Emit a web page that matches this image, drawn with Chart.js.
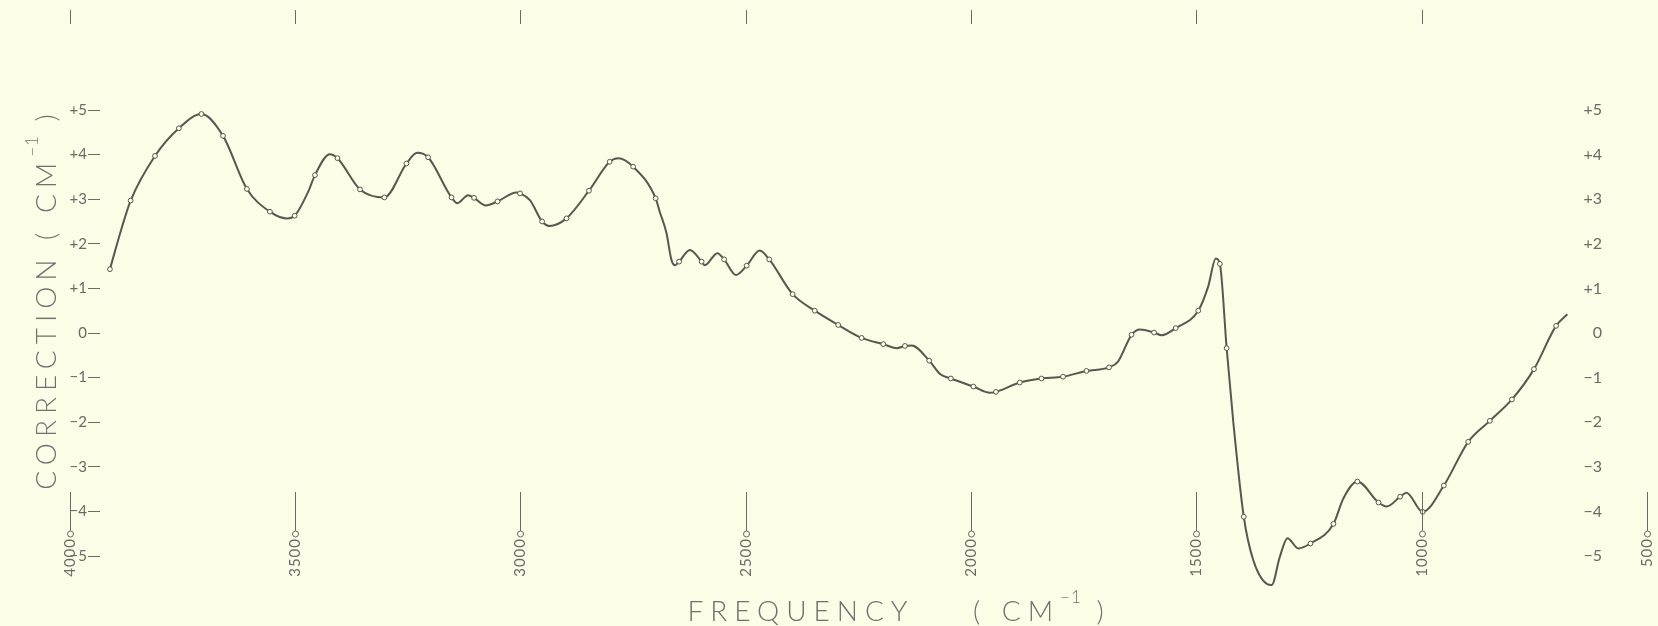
<!DOCTYPE html>
<html>
<head>
<meta charset="utf-8">
<script src="https://cdn.jsdelivr.net/npm/chart.js@4.4.1/dist/chart.umd.min.js"></script>
<style>
  html, body { margin: 0; padding: 0; background: #fcfde6; }
  #wrap { width: 1658px; height: 626px; }
</style>
</head>
<body>
<div id="wrap"><canvas id="chart" width="1658" height="626"></canvas></div>
<script>
// ========================================
// Frequency correction curve (cm-1)
// ========================================

// smooth curve: frequency (cm-1) and correction (cm-1)
const frequency = [
    3911, 3885, 3865, 3811, 3758, 3708, 3660, 3607, 3556, 3519,
    3501, 3471, 3456, 3423, 3406, 3356, 3302, 3253, 3229, 3205,
    3153, 3140, 3116, 3103, 3077, 3051, 3009, 3001, 2979, 2952,
    2936, 2898, 2848, 2802, 2783, 2750, 2700, 2691, 2676, 2665,
    2657, 2648, 2624, 2598, 2591, 2563, 2548, 2522, 2498, 2469,
    2448, 2396, 2347, 2295, 2243, 2195, 2165, 2147, 2132, 2093,
    2069, 2045, 1995, 1958, 1945, 1892, 1844, 1796, 1744, 1694,
    1674, 1644, 1625, 1594, 1577, 1546, 1496, 1474, 1457, 1448,
    1433, 1418, 1395, 1374, 1343, 1333, 1315, 1298, 1274, 1247,
    1196, 1174, 1143, 1096, 1078, 1048, 1034, 998, 951, 897,
    849, 800, 751, 702, 677
];
const correction = [
    1.43, 2.35, 2.97, 3.97, 4.59, 4.91, 4.42, 3.23, 2.72, 2.57,
    2.63, 3.17, 3.54, 4.01, 3.92, 3.22, 3.04, 3.80, 4.04, 3.94,
    3.04, 2.91, 3.09, 3.03, 2.86, 2.95, 3.15, 3.13, 2.98, 2.50,
    2.40, 2.57, 3.19, 3.84, 3.92, 3.73, 3.02, 2.72, 2.24, 1.64,
    1.52, 1.60, 1.86, 1.60, 1.52, 1.79, 1.65, 1.30, 1.51, 1.85,
    1.65, 0.87, 0.50, 0.18, -0.11, -0.25, -0.34, -0.29, -0.28, -0.62,
    -0.92, -1.02, -1.20, -1.34, -1.32, -1.11, -1.02, -0.98, -0.85, -0.77,
    -0.64, -0.04, 0.08, 0.01, -0.05, 0.11, 0.50, 1.04, 1.67, 1.55,
    -0.34, -2.02, -4.12, -5.09, -5.63, -5.65, -5.02, -4.60, -4.83, -4.72,
    -4.28, -3.71, -3.33, -3.80, -3.89, -3.67, -3.58, -4.01, -3.42, -2.44,
    -1.97, -1.49, -0.81, 0.16, 0.42
];

// measured points drawn as small open circles
const pointFrequency = [
    3911, 3865, 3811, 3758, 3708, 3660, 3607, 3556, 3501, 3456,
    3406, 3356, 3302, 3253, 3205, 3153, 3103, 3051, 3001, 2952,
    2898, 2848, 2802, 2750, 2700, 2648, 2598, 2548, 2498, 2448,
    2396, 2347, 2295, 2243, 2195, 2147, 2093, 2045, 1995, 1945,
    1892, 1844, 1796, 1744, 1694, 1644, 1594, 1546, 1496, 1448,
    1433, 1395, 1343, 1247, 1196, 1143, 1096, 1048, 998, 951,
    897, 849, 800, 751, 702
];
const pointCorrection = [
    1.43, 2.97, 3.97, 4.59, 4.91, 4.42, 3.23, 2.72, 2.63, 3.54,
    3.92, 3.22, 3.04, 3.80, 3.94, 3.04, 3.03, 2.95, 3.13, 2.50,
    2.57, 3.19, 3.84, 3.73, 3.02, 1.60, 1.60, 1.65, 1.51, 1.65,
    0.87, 0.50, 0.18, -0.11, -0.25, -0.29, -0.62, -1.02, -1.20, -1.32,
    -1.11, -1.02, -0.98, -0.85, -0.77, -0.04, 0.01, 0.11, 0.50, 1.55,
    -0.34, -4.12, -5.63, -4.72, -4.28, -3.33, -3.80, -3.67, -4.01, -3.42,
    -2.44, -1.97, -1.49, -0.81, 0.16
];

// frequency ticks (bottom, with labels) and the short marks along the top edge
const frequencyTicks = [4000, 3500, 3000, 2500, 2000, 1500, 1000, 500];
const topMarks = [4000, 3500, 3000, 2500, 2000, 1500, 1000];

const INK = '#5a5650';
const LABEL = '#6a6a66';
const PAPER = '#fcfde6';
const FONT = 'Lato, "DejaVu Sans", sans-serif';

function signed(v) {
    if (v > 0) return '+' + v;
    if (v < 0) return '\u2212' + (-v);
    return '0';
}

// draws head + superscript + tail centred on (0,0) of the current transform
function drawTitle(ctx, head, sup, tail, size, spacing) {
    const big = '300 ' + size + 'px ' + FONT;
    const small = '300 ' + Math.round(size * 0.6) + 'px ' + FONT;
    ctx.letterSpacing = spacing + 'px';
    ctx.font = big;
    const w1 = ctx.measureText(head).width;
    const w3 = ctx.measureText(tail).width;
    ctx.letterSpacing = '1px';
    ctx.font = small;
    const w2 = ctx.measureText(sup).width;
    let x = -(w1 + w2 + w3) / 2;
    ctx.textAlign = 'left';
    ctx.textBaseline = 'alphabetic';
    ctx.letterSpacing = spacing + 'px';
    ctx.font = big;
    ctx.fillText(head, x, size * 0.36);
    x += w1;
    ctx.letterSpacing = '1px';
    ctx.font = small;
    ctx.fillText(sup, x, -size * 0.3);
    x += w2;
    ctx.letterSpacing = spacing + 'px';
    ctx.font = big;
    ctx.fillText(tail, x, size * 0.36);
}

const decorations = {
    id: 'decorations',
    beforeDraw(chart) {
        const ctx = chart.ctx;
        ctx.save();
        ctx.fillStyle = PAPER;
        ctx.fillRect(0, 0, chart.width, chart.height);
        ctx.restore();
    },
    afterDraw(chart) {
        const ctx = chart.ctx;
        const xs = chart.scales.x;
        const bottom = chart.chartArea.bottom;

        ctx.save();
        ctx.strokeStyle = LABEL;
        ctx.fillStyle = LABEL;
        ctx.lineWidth = 1;

        // bottom frequency ticks: line, small circle, rotated number
        frequencyTicks.forEach(f => {
            const px = Math.round(xs.getPixelForValue(f)) + 0.5;
            const cy = bottom - 22;
            ctx.beginPath();
            ctx.moveTo(px, bottom - 64);
            ctx.lineTo(px, cy - 3);
            ctx.stroke();
            ctx.beginPath();
            ctx.arc(px, cy, 3, 0, Math.PI * 2);
            ctx.stroke();
            ctx.save();
            ctx.translate(px, cy + 4);
            ctx.rotate(-Math.PI / 2);
            ctx.font = '15px ' + FONT;
            ctx.letterSpacing = '1px';
            ctx.textAlign = 'right';
            ctx.textBaseline = 'middle';
            ctx.fillText(String(f), 0, 0);
            ctx.restore();
        });

        // short marks along the top edge
        topMarks.forEach(f => {
            const px = Math.round(xs.getPixelForValue(f)) + 0.5;
            ctx.beginPath();
            ctx.moveTo(px, 10);
            ctx.lineTo(px, 24);
            ctx.stroke();
        });

        // axis titles
        ctx.fillStyle = '#707070';
        ctx.save();
        ctx.translate(899, 611);
        drawTitle(ctx, 'FREQUENCY    ( CM', '\u22121', ' )', 28, 7);
        ctx.restore();

        ctx.save();
        ctx.translate(46, 299);
        ctx.rotate(-Math.PI / 2);
        drawTitle(ctx, 'CORRECTION ( CM', '\u22121', ' )', 28, 6);
        ctx.restore();

        ctx.restore();
    }
};

const chart = new Chart(document.getElementById('chart'), {
    type: 'line',
    data: {
        datasets: [
            {
                label: 'correction',
                data: frequency.map((f, i) => ({ x: f, y: correction[i] })),
                borderColor: INK,
                borderWidth: 2,
                pointRadius: 0,
                cubicInterpolationMode: 'monotone',
                clip: false,
                order: 2
            },
            {
                label: 'points',
                data: pointFrequency.map((f, i) => ({ x: f, y: pointCorrection[i] })),
                showLine: false,
                pointRadius: 2.4,
                pointBorderWidth: 1,
                pointBorderColor: INK,
                pointBackgroundColor: PAPER,
                clip: false,
                order: 1
            }
        ]
    },
    options: {
        responsive: false,
        animation: false,
        devicePixelRatio: 1,
        layout: { padding: { top: 110, bottom: 70, left: 0, right: 56 } },
        scales: {
            x: {
                type: 'linear',
                display: false,
                reverse: true,
                min: 660,
                max: 3933
            },
            y: {
                position: 'left',
                min: -5,
                max: 5,
                afterFit(scale) { scale.width = 100; },
                border: { display: false },
                grid: { drawOnChartArea: false, tickLength: 12, color: LABEL },
                ticks: {
                    stepSize: 1,
                    padding: 1,
                    color: LABEL,
                    font: { family: FONT, size: 15 },
                    callback: v => signed(v)
                }
            },
            y2: {
                position: 'right',
                min: -5,
                max: 5,
                afterFit(scale) { scale.width = 27; },
                border: { display: false },
                grid: { display: false, drawTicks: false },
                ticks: {
                    stepSize: 1,
                    padding: 5,
                    crossAlign: 'far',
                    color: LABEL,
                    font: { family: FONT, size: 16 },
                    callback: v => signed(v)
                }
            }
        },
        plugins: {
            legend: { display: false },
            tooltip: { enabled: false },
            title: { display: false }
        }
    },
    plugins: [decorations]
});
</script>
</body>
</html>
